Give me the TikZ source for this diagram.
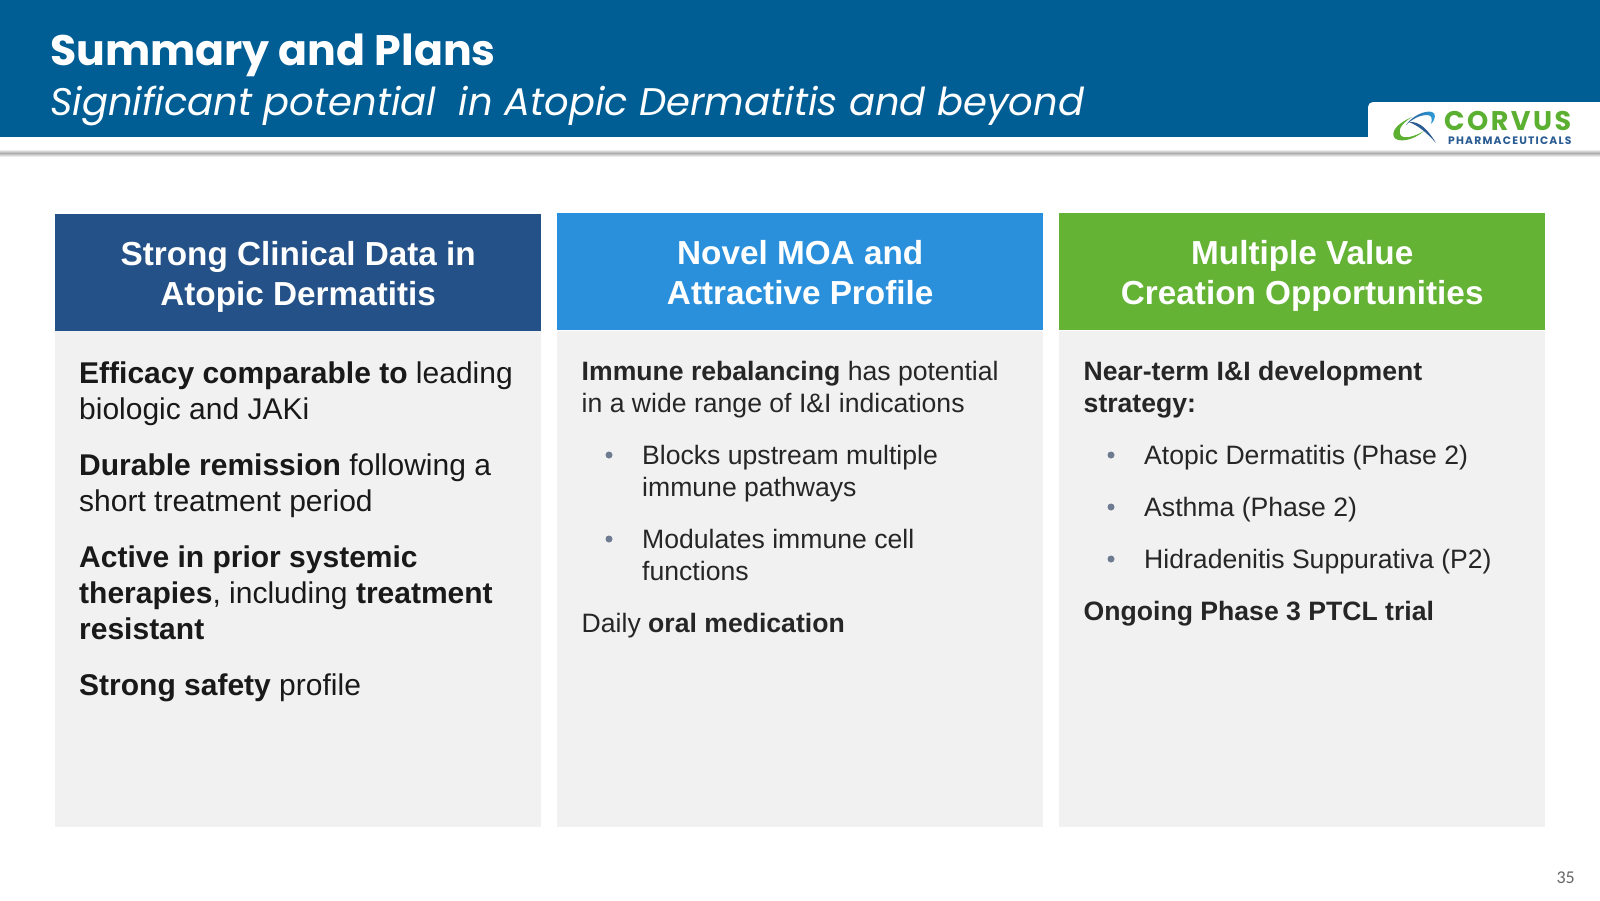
\documentclass[tikz,border=0pt]{standalone}
\usepackage{fontspec}
\setmainfont{Liberation Sans}
\newfontfamily\titlefont{Poppins}
\newfontfamily\pagefont{Carlito}
\newfontfamily\corvusfont{Poppins}[LetterSpace=9]
\newfontfamily\pharmafont{Poppins}[LetterSpace=11]
\usetikzlibrary{calc}
\definecolor{bannerblue}{HTML}{005E95}
\definecolor{navyhead}{HTML}{245187}
\definecolor{skyhead}{HTML}{2A90DC}
\definecolor{greenhead}{HTML}{64B335}
\definecolor{panelgray}{HTML}{F1F1F1}
\definecolor{bodyink}{HTML}{262626}
\definecolor{dotgray}{HTML}{6E7B91}
\definecolor{logogreen}{HTML}{5CB031}
\definecolor{logonavy}{HTML}{2A5B92}
\definecolor{logosky}{HTML}{2FA0DC}
\newcommand{\colw}{486}
\newcommand{\colaxs}{55}
\newcommand{\colbxs}{557}
\newcommand{\colcxs}{1059}
\newcommand{\headh}{117}
\newcommand{\bodyys}{331}
\newcommand{\bodyye}{827}
\newcommand{\bodysize}{\fontsize{30}{36}\selectfont}
\newcommand{\smallsize}{\fontsize{26.6}{32}\selectfont}
\newcommand{\headsize}{\fontsize{33.3}{40}\selectfont\bfseries}
\tikzset{
  headbox/.style={anchor=north west,minimum width=\colw,minimum height=\headh,inner sep=0},
  headtext/.style={yshift=-5,inner sep=0,text=white,align=center,font=\headsize},
  panelbox/.style={anchor=north west,minimum width=\colw,inner sep=0,fill=panelgray},
  bigtext/.style={anchor=north west,inner sep=0,align=left,text=black!90,font=\bodysize},
  smalltext/.style={anchor=north west,inner sep=0,align=left,text=bodyink,font=\smallsize},
  bulletdot/.style={circle,fill=dotgray,minimum size=7,inner sep=0},
}
\begin{document}
\begin{tikzpicture}[x=1pt,y=-1pt]
  \useasboundingbox (0,0) rectangle (1600,900);
  % banner
  \fill[bannerblue] (0,0) rectangle (1600,137);
  \node[anchor=base west,inner sep=0,text=white,font=\titlefont\fontsize{42.7}{50}\selectfont\bfseries]
    (title) at (50,65) {Summary and Plans};
  \node[anchor=base west,inner sep=0,text=white,font=\titlefont\fontsize{38.5}{50}\selectfont\itshape]
    (subtitle) at (50,115) {Significant potential\ \ in Atopic Dermatitis and beyond};
  \begin{scope}
    \shade[top color=black!8,bottom color=black!32] (0,150) rectangle (1600,153);
    \shade[top color=black!32,bottom color=white] (0,153) rectangle (1600,157);
  \end{scope}
  % logo tab
  \fill[white] (1368,138) {[rounded corners=5] -- (1368,102) -- (1620,102)} -- (1620,138) -- cycle;
  \fill[logogreen] (1412,117) .. controls (1398,123) and (1391,131) .. (1394,137)
    .. controls (1397,143) and (1413,141) .. (1424,131)
    .. controls (1414,137) and (1402,140) .. (1400,134)
    .. controls (1398,128) and (1404,122) .. (1412,117) -- cycle;
  \shade[left color=logonavy,right color=logosky] (1406,125) .. controls (1412,116) and (1425,110) .. (1432,112)
    .. controls (1436,113) and (1436,119) .. (1431,124)
    .. controls (1433,118) and (1431,115) .. (1427,115)
    .. controls (1420,115) and (1412,119) .. (1406,125) -- cycle;
  \fill[logonavy] (1409,122) .. controls (1420,121) and (1428,130) .. (1436,143)
    .. controls (1427,133) and (1419,126) .. (1409,122) -- cycle;
  \node[anchor=base west,inner sep=0,text=logogreen,font=\corvusfont\fontsize{27}{30}\selectfont\bfseries]
    (corvus) at (1444,130.5) {CORVUS};
  \node[anchor=base west,inner sep=0,text=logonavy,font=\pharmafont\fontsize{10.8}{12}\selectfont\bfseries]
    (pharma) at (1448,144) {PHARMACEUTICALS};
  % strong clinical data
  \node[panelbox,minimum height=\bodyye-\bodyys] (panela) at (\colaxs,\bodyys) {};
  \node[headbox,fill=navyhead] (heada) at (\colaxs,214) {};
  \node[headtext] (titlea) at (heada.center) {\strut Strong Clinical Data in\\\strut Atopic Dermatitis};
  \node[bigtext] (effic) at (79,362) {\textbf{Efficacy comparable to} leading\\biologic and JAKi};
  \node[bigtext] (durable) at (79,454) {\textbf{Durable remission} following a\\short treatment period};
  \node[bigtext] (active) at (79,546) {\textbf{Active in prior systemic}\\\textbf{therapies}, including \textbf{treatment}\\\textbf{resistant}};
  \node[bigtext] (safety) at (79,674) {\textbf{Strong safety} profile};
  % novel moa
  \node[panelbox,minimum height=\bodyye-\bodyys] (panelb) at (\colbxs,\bodyys) {};
  \node[headbox,fill=skyhead] (headb) at (\colbxs,213) {};
  \node[headtext] (titleb) at (headb.center) {\strut Novel MOA and\\\strut Attractive Profile};
  \node[smalltext] (immune) at (581.5,361) {\textbf{Immune rebalancing} has potential\\in a wide range of I\&I indications};
  \node[bulletdot] (dotba) at (609,455) {};
  \node[smalltext] (blocks) at (642,445) {Blocks upstream multiple\\immune pathways};
  \node[bulletdot] (dotbb) at (609,539) {};
  \node[smalltext] (modul) at (642,529) {Modulates immune cell\\functions};
  \node[smalltext] (daily) at (581.5,613) {Daily \textbf{oral medication}};
  % value creation
  \node[panelbox,minimum height=\bodyye-\bodyys] (panelc) at (\colcxs,\bodyys) {};
  \node[headbox,fill=greenhead] (headc) at (\colcxs,213) {};
  \node[headtext] (titlec) at (headc.center) {\strut Multiple Value\\\strut Creation Opportunities};
  \node[smalltext] (near) at (1083.5,361) {\textbf{Near-term I\&I development}\\\textbf{strategy:}};
  \node[bulletdot] (dotca) at (1111,455) {};
  \node[smalltext] (atopic) at (1144,445) {Atopic Dermatitis (Phase 2)};
  \node[bulletdot] (dotcb) at (1111,507) {};
  \node[smalltext] (asthma) at (1144,497) {Asthma (Phase 2)};
  \node[bulletdot] (dotcc) at (1111,559) {};
  \node[smalltext] (hidra) at (1144,549) {Hidradenitis Suppurativa (P2)};
  \node[smalltext] (ongoing) at (1083.5,601) {\textbf{Ongoing Phase 3 PTCL trial}};
  % page number
  \node[anchor=base east,inner sep=0,text=black!60,font=\pagefont\fontsize{18}{20}\selectfont] (pagenum) at (1575,883) {35};
\end{tikzpicture}
\end{document}
